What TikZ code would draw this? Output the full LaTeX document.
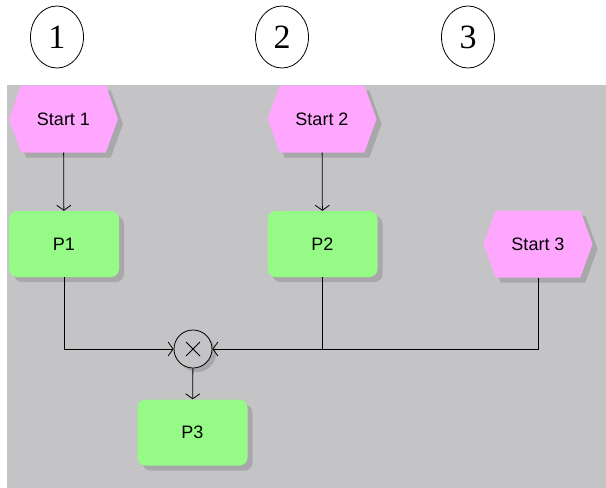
\documentclass[tikz,border=0pt]{standalone}
\usepackage{fontspec}
\setmainfont{Liberation Sans}
\newfontfamily\numfont{Liberation Serif}
\usetikzlibrary{shapes.geometric,shapes.symbols,shadows,arrows.meta}
\definecolor{bggrey}{RGB}{196,195,198}
\definecolor{shgrey}{RGB}{168,168,170}
\definecolor{evpink}{RGB}{255,166,255}
\definecolor{fngreen}{RGB}{150,250,135}
\tikzset{
  lanenum/.style={draw=black, line width=0.8pt, ellipse, minimum width=53pt, minimum height=62pt, inner sep=0pt, font=\numfont\fontsize{34}{34}\selectfont},
  shd/.style={drop shadow={shadow xshift=5pt, shadow yshift=-5pt, fill=shgrey, opacity=1}},
  event/.style={shape=signal, signal to=east and west, signal pointer angle=140, fill=evpink, minimum width=109pt, minimum height=67pt, inner sep=0pt, shd, font=\fontsize{18}{18}\selectfont},
  func/.style={rectangle, rounded corners=8pt, fill=fngreen, minimum width=110pt, minimum height=66pt, inner sep=0pt, shd, font=\fontsize{18}{18}\selectfont},
  xorop/.style={circle, draw=black, line width=0.8pt, fill=bggrey, minimum size=38pt, inner sep=0pt, drop shadow={shadow xshift=4pt, shadow yshift=-4pt, fill=shgrey, opacity=1}},
  conn/.style={draw=black, line width=0.8pt},
  arr/.style={conn, -{Straight Barb[length=5pt, width=14pt, line width=0.8pt]}}
}
\begin{document}
\begin{tikzpicture}[x=1pt, y=-1pt]
\useasboundingbox (0,0) rectangle (606,488);
\fill[bggrey] (7,85) rectangle (606,488);
\node[lanenum] (c1) at (57,37) {1};
\node[lanenum] (c2) at (282,37) {2};
\node[lanenum] (c3) at (468,37) {3};
\node[event] (s1) at (63.5,119) {Start 1};
\node[event] (s2) at (322,119) {Start 2};
\node[event] (s3) at (538,244) {Start 3};
\node[func] (p1) at (64,244) {P1};
\node[func] (p2) at (322.5,244) {P2};
\node[xorop] (x) at (193,349) {};
\draw[conn] ([shift={(-7,-7)}]x.center) -- ([shift={(7,7)}]x.center);
\draw[conn] ([shift={(-7,7)}]x.center) -- ([shift={(7,-7)}]x.center);
\node[func] (p3) at (192.5,432.5) {P3};
\draw[arr] (s1) -- (p1);
\draw[arr] (s2) -- (p2);
\draw[arr] (p1.south) |- (x.west);
\draw[arr] (s3.south) |- (x.east);
\draw[conn] (p2.south) -- (p2.south |- x.center);
\draw[arr] (x) -- (p3);
\end{tikzpicture}
\end{document}
